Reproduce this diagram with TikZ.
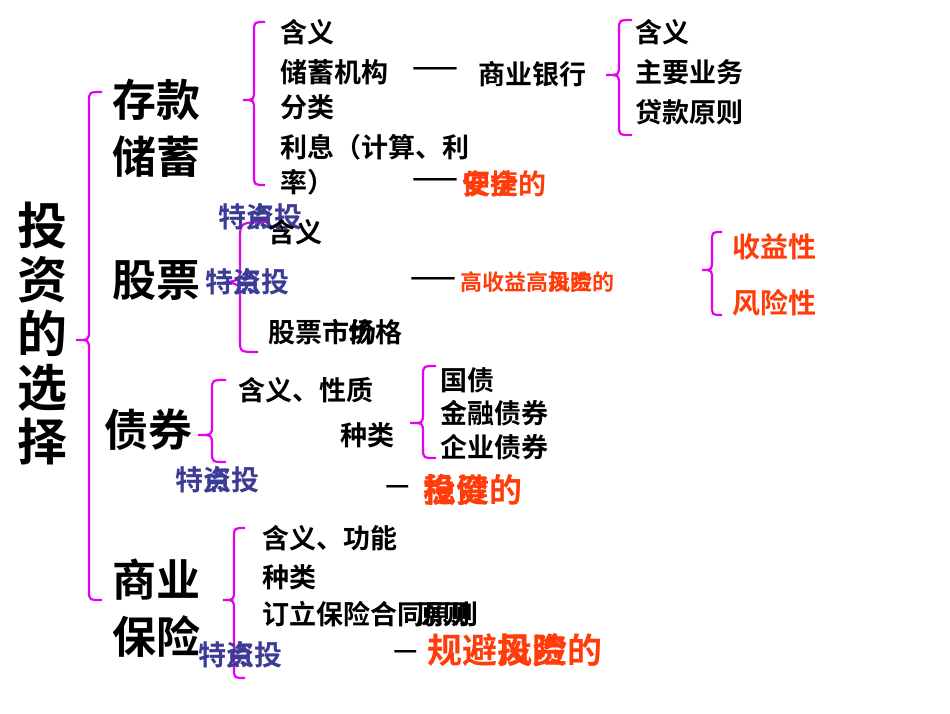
\documentclass[tikz,border=0pt]{standalone}
\usepackage{fontspec}
\setmainfont{Noto Sans CJK SC}[BoldFont={Noto Sans CJK SC Bold}]
\begin{document}
\begin{tikzpicture}[x=1pt,y=-1pt,
  t/.style={anchor=west,inner sep=0,font=\bfseries\fontsize{27}{27}\selectfont},
  big/.style={anchor=west,inner sep=0,font=\bfseries\fontsize{44}{44}\selectfont},
  blu/.style={t,text=blu,font=\bfseries\fontsize{28}{28}\selectfont},
  red/.style={t,text=rd},
  br/.style={draw=mag,line width=2.2pt}]
\definecolor{mag}{RGB}{230,0,240}
\definecolor{blu}{RGB}{60,60,150}
\definecolor{rd}{RGB}{255,60,10}
\useasboundingbox (0,0) rectangle (950,713);
\newcommand\cbrace[5]{% xright top tip bottom width
 \draw[br] (#1,#2) .. controls (#1-#5/2,#2) .. (#1-#5/2,#2+10) -- (#1-#5/2,#3-10) .. controls (#1-#5/2,#3) .. (#1-#5,#3) .. controls (#1-#5/2,#3) .. (#1-#5/2,#3+10) -- (#1-#5/2,#4-10) .. controls (#1-#5/2,#4) .. (#1,#4);}
% title
\node[font=\bfseries\fontsize{50}{54}\selectfont,align=center,inner sep=0] (title) at (42,333) {投\\资\\的\\选\\择};
\cbrace{102}{92}{340}{600}{26}
% 存款储蓄
\node[big] (ck) at (112,100) {存款};
\node[big] (cx) at (112,157) {储蓄};
\cbrace{265}{22}{100}{185}{22}
\node[t] (a1) at (280,32) {含义};
\node[t] (a2) at (280,72) {储蓄机构};
\node[t] (a3) at (280,107) {分类};
\node[t] (a4) at (280,147) {利息（计算、利};
\node[t] (a5) at (280,182) {率）};
\node[t] (dash1) at (412,72) {——};
\node[t] (bank) at (478,74) {商业银行};
\cbrace{632}{20}{75}{135}{26}
\node[t] (b1) at (635,32) {含义};
\node[t] (b2) at (635,72) {主要业务};
\node[t] (b3) at (635,112) {贷款原则};
\node[t] (dash2) at (412,183) {——};
\node[red,font=\bfseries\fontsize{28}{28}\selectfont] (r1) at (462,184) {便捷的};
\node[red,font=\bfseries\fontsize{28}{28}\selectfont] (r1b) at (462,184) {安全};
% 股票
\node[big] (gp) at (112,280) {股票};
\draw[br] (270,222) .. controls (240,222) .. (240,240) -- (240,265) .. controls (240,280) .. (228,282) .. controls (240,285) .. (240,300) -- (240,340) .. controls (240,352) .. (258,352);
\node[blu] (g0) at (218,217) {特点投};
\node[blu] (g0b) at (246,217) {资};
\node[t] (g1) at (268,232) {含义};
\node[blu] (g2) at (205,282) {特点投};
\node[blu] (g2b) at (233,282) {资};
\node[t] (g3) at (268,332) {股票市场};
\node[t] (g3b) at (348,332) {价格};
\node[t] (dash3) at (410,282) {——};
\node[red,font=\bfseries\fontsize{22}{22}\selectfont] (r2) at (460,282) {高收益高风险的};
\node[red,font=\bfseries\fontsize{22}{22}\selectfont] (r2b) at (548,282) {投资};
\cbrace{722}{232}{270}{315}{20}
\node[red,font=\bfseries\fontsize{28}{28}\selectfont] (s1) at (732,247) {收益性};
\node[red,font=\bfseries\fontsize{28}{28}\selectfont] (s2) at (732,303) {风险性};
% 债券
\node[big] (zq) at (104,430) {债券};
\cbrace{226}{380}{435}{462}{28}
\node[t] (z1) at (238,390) {含义、性质};
\node[t] (z2) at (340,435) {种类};
\cbrace{436}{366}{423}{458}{26}
\node[t] (z3) at (440,380) {国债};
\node[t] (z4) at (440,413) {金融债券};
\node[t] (z5) at (440,447) {企业债券};
\node[blu] (z6) at (175,480) {特点投};
\node[blu] (z6b) at (203,480) {资};
\node[t] (dash4) at (385,490) {—};
\node[red,font=\bfseries\fontsize{33}{33}\selectfont] (r3) at (423,490) {稳健的};
\node[red,font=\bfseries\fontsize{33}{33}\selectfont] (r3b) at (423,490) {投资};
% 商业保险
\node[big] (sy) at (112,580) {商业};
\node[big] (bx) at (112,637) {保险};
\cbrace{245}{528}{600}{678}{22}
\node[t] (x1) at (262,538) {含义、功能};
\node[t] (x2) at (262,577) {种类};
\node[t] (x3) at (262,614) {订立保险合同原则};
\node[t] (x3b) at (416,614) {原则};
\node[blu] (x4) at (198,655) {特点投};
\node[blu] (x4b) at (226,655) {资};
\node[t] (dash5) at (393,655) {—};
\node[red,font=\bfseries\fontsize{35}{35}\selectfont] (r4) at (427,650) {规避风险的};
\node[red,font=\bfseries\fontsize{35}{35}\selectfont] (r4b) at (497,650) {投资};
\end{tikzpicture}
\end{document}
